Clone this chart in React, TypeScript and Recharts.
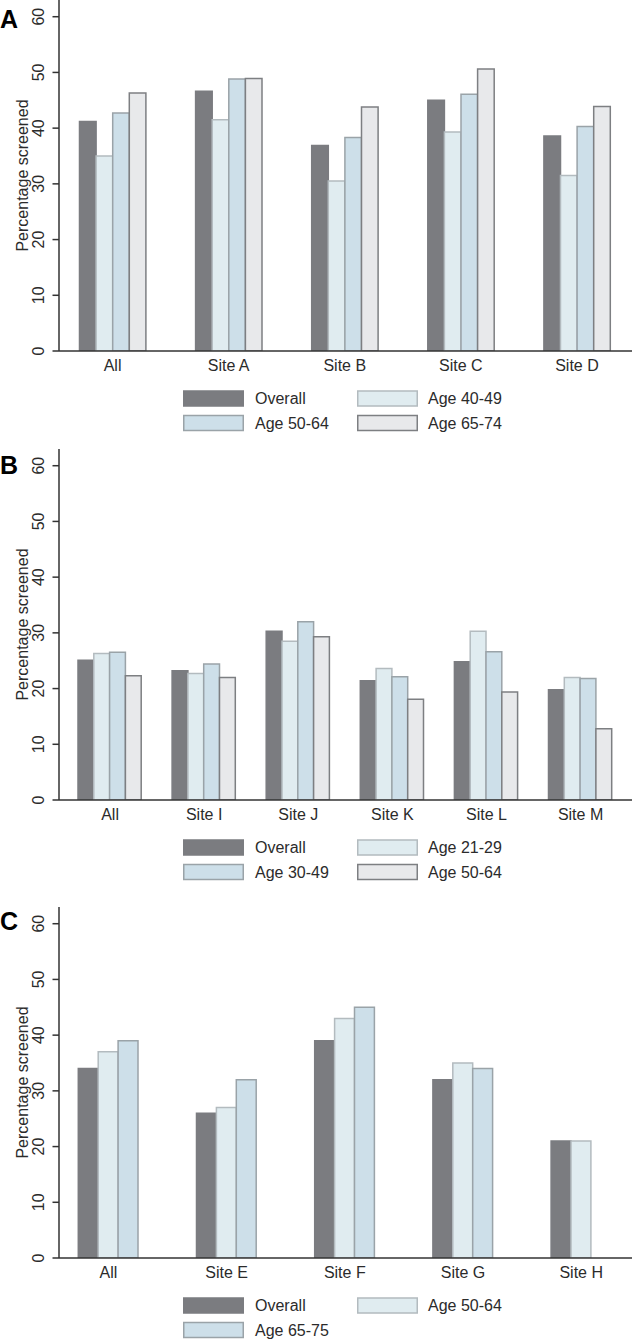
import React from 'react';
import { BarChart, Bar, XAxis, YAxis, Legend } from 'recharts';

const FONT = '"Liberation Sans", Arial, Helvetica, sans-serif';
const TEXT = '#2b2b2b';
const AXIS = '#333333';

// ---------- Data ----------
const yTicks = [0, 10, 20, 30, 40, 50, 60];
const yMax = 63;

const catsA = ['All', 'Site A', 'Site B', 'Site C', 'Site D'];
const overallA = [41.2, 46.6, 36.9, 45.0, 38.6];
const age4049A = [35.0, 41.5, 30.5, 39.3, 31.5];
const age5064A = [42.7, 48.8, 38.3, 46.1, 40.3];
const age6574A = [46.3, 48.9, 43.8, 50.6, 43.9];

const catsB = ['All', 'Site I', 'Site J', 'Site K', 'Site L', 'Site M'];
const overallB = [25.1, 23.2, 30.3, 21.4, 24.8, 19.8];
const age2129B = [26.3, 22.7, 28.5, 23.6, 30.3, 22.0];
const age3049B = [26.5, 24.4, 32.0, 22.1, 26.6, 21.8];
const age5064B = [22.3, 22.0, 29.3, 18.1, 19.4, 12.8];

const catsC = ['All', 'Site E', 'Site F', 'Site G', 'Site H'];
const overallC = [34, 26, 39, 32, 21];
const age5064C = [37, 27, 43, 35, 21];
const age6575C: (number | null)[] = [39, 32, 45, 34, null];

// ---------- Styles ----------
const S_OVERALL = { fill: '#7b7c80', stroke: '#7b7c80' };
const S_LIGHT = { fill: '#e0ecf0', stroke: '#b3bbbf' };
const S_BLUE = { fill: '#cddfe9', stroke: '#9aa3a8' };
const S_GRAY = { fill: '#e8e9eb', stroke: '#7d7f82' };

type Series = { key: string; name: string; values: (number | null)[]; fill: string; stroke: string };

const seriesA: Series[] = [
  { key: 's0', name: 'Overall', values: overallA, ...S_OVERALL },
  { key: 's1', name: 'Age 40-49', values: age4049A, ...S_LIGHT },
  { key: 's2', name: 'Age 50-64', values: age5064A, ...S_BLUE },
  { key: 's3', name: 'Age 65-74', values: age6574A, ...S_GRAY },
];
const seriesB: Series[] = [
  { key: 's0', name: 'Overall', values: overallB, ...S_OVERALL },
  { key: 's1', name: 'Age 21-29', values: age2129B, ...S_LIGHT },
  { key: 's2', name: 'Age 30-49', values: age3049B, ...S_BLUE },
  { key: 's3', name: 'Age 50-64', values: age5064B, ...S_GRAY },
];
const seriesC: Series[] = [
  { key: 's0', name: 'Overall', values: overallC, ...S_OVERALL },
  { key: 's1', name: 'Age 50-64', values: age5064C, ...S_LIGHT },
  { key: 's2', name: 'Age 65-75', values: age6575C, ...S_BLUE },
];

const PLOT_H = 351;
const CHART_H = 440;
const Y_W = 59;

const YTick = (props: any) => {
  const { x, y, payload } = props;
  return (
    <text
      transform={`translate(${x},${y}) rotate(-90)`}
      textAnchor="middle"
      fontSize={16}
      fontFamily={FONT}
      fill={TEXT}
    >
      {payload.value}
    </text>
  );
};

const YTitle = (props: any) => {
  const vb = props.viewBox || { x: 0, y: 0, width: 0, height: PLOT_H };
  const cy = vb.y + vb.height / 2;
  return (
    <text
      transform={`translate(28,${cy}) rotate(-90)`}
      textAnchor="middle"
      fontSize={16}
      fontFamily={FONT}
      fill={TEXT}
    >
      Percentage screened
    </text>
  );
};

const LEG_TOP = PLOT_H + 30;

const LegendBox = ({ series }: { series: Series[] }) => {
  const rows = [47.5, 72];
  return (
    <svg width={632} height={60} style={{ display: 'block' }}>
      {series.map((s, i) => {
        const r = Math.floor(i / 2);
        const c = i % 2;
        const cy = PLOT_H + rows[r] - LEG_TOP;
        const sx = c === 0 ? 183 : 357;
        const tx = c === 0 ? 255 : 428;
        const isOverall = i === 0;
        return (
          <g key={s.key}>
            <rect
              x={sx + 0.75}
              y={cy - 7.5}
              width={59.5}
              height={15}
              fill={s.fill}
              stroke={isOverall ? s.fill : s.stroke}
              strokeWidth={1.5}
            />
            <text x={tx} y={cy + 5.5} fontSize={16} fontFamily={FONT} fill={TEXT}>
              {s.name}
            </text>
          </g>
        );
      })}
    </svg>
  );
};

type PanelProps = {
  top: number;
  cats: string[];
  series: Series[];
  padL: number;
  padR: number;
  barSize: number;
  letter: string;
  letterY: number;
};

const Panel = ({ top, cats, series, padL, padR, barSize, letter, letterY }: PanelProps) => {
  const data = cats.map((c, i) => {
    const row: any = { cat: c };
    series.forEach((s) => {
      row[s.key] = s.values[i];
    });
    return row;
  });
  return (
    <div style={{ position: 'absolute', left: 0, top, width: 632, height: CHART_H }}>
      <BarChart
        width={632}
        height={CHART_H}
        data={data}
        margin={{ top: 0, right: 0, bottom: 0, left: 0 }}
        barGap={0}
      >
        <XAxis
          dataKey="cat"
          type="category"
          interval={0}
          height={CHART_H - PLOT_H}
          padding={{ left: padL, right: padR }}
          tickLine={false}
          tickSize={0}
          tickMargin={9}
          axisLine={{ stroke: AXIS, strokeWidth: 1.5 }}
          tick={{ fontSize: 16, fontFamily: FONT, fill: TEXT }}
        />
        <YAxis
          type="number"
          domain={[0, yMax]}
          ticks={yTicks}
          allowDataOverflow
          width={Y_W}
          tickSize={6.5}
          tickMargin={9}
          tick={<YTick />}
          tickLine={{ stroke: AXIS, strokeWidth: 1.5 }}
          axisLine={{ stroke: AXIS, strokeWidth: 1.5 }}
          label={<YTitle />}
        />
        <Legend
          layout="horizontal"
          verticalAlign="middle"
          align="center"
          wrapperStyle={{ position: 'absolute', top: LEG_TOP, left: 0, width: 632, height: 60, margin: 0, padding: 0 }}
          content={() => <LegendBox series={series} />}
        />
        {series.map((s) => (
          <Bar
            key={s.key}
            dataKey={s.key}
            name={s.name}
            fill={s.fill}
            stroke={s.stroke}
            strokeWidth={1.5}
            barSize={barSize}
            isAnimationActive={false}
          />
        ))}
      </BarChart>
      <svg
        width={40}
        height={40}
        style={{ position: 'absolute', left: 0, top: letterY - 30 }}
      >
        <text x={0} y={30} fontSize={25} fontWeight="bold" fontFamily={FONT} fill="#000">
          {letter}
        </text>
      </svg>
    </div>
  );
};

export default function App() {
  return (
    <div style={{ position: 'absolute', left: 0, top: 0, width: 632, height: 1339, background: '#fff', overflow: 'hidden' }}>
      <Panel top={0} cats={catsA} series={seriesA} padL={-4.5} padR={-3} barSize={16.6} letter="A" letterY={28} />
      <Panel top={448.5} cats={catsB} series={seriesB} padL={4} padR={4.4} barSize={15.8} letter="B" letterY={473.5 - 448.5} />
      <Panel top={906.5} cats={catsC} series={seriesC} padL={-9.7} padR={-8.3} barSize={19.9} letter="C" letterY={930 - 906.5} />
    </div>
  );
}
